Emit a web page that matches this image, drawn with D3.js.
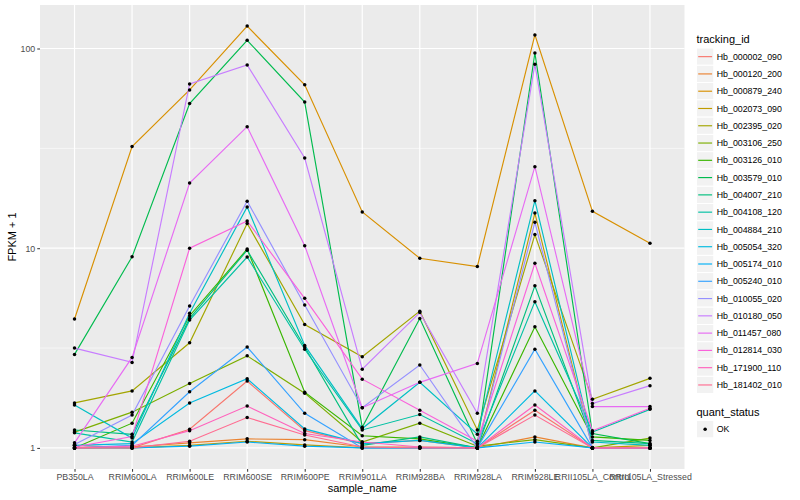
<!DOCTYPE html>
<html>
<head>
<meta charset="utf-8">
<script src="https://cdn.jsdelivr.net/npm/d3@7"></script>
<style>
  body { margin: 0; background: #fff; }
  text { font-family: "Liberation Sans", Arial, sans-serif; }
</style>
</head>
<body>
<svg id="chart"></svg>
<script>
// samples on the x axis
var samples = ["PB350LA", "RRIM600LA", "RRIM600LE", "RRIM600SE", "RRIM600PE", "RRIM901LA",
    "RRIM928BA", "RRIM928LA", "RRIM928LE", "RRII105LA_Control", "RRII105LA_Stressed"];

var trackingIds = ["Hb_000002_090", "Hb_000120_200", "Hb_000879_240", "Hb_002073_090", "Hb_002395_020",
    "Hb_003106_250", "Hb_003126_010", "Hb_003579_010", "Hb_004007_210", "Hb_004108_120",
    "Hb_004884_210", "Hb_005054_320", "Hb_005174_010", "Hb_005240_010", "Hb_010055_020",
    "Hb_010180_050", "Hb_011457_080", "Hb_012814_030", "Hb_171900_110", "Hb_181402_010"];

// FPKM + 1 per gene, same order as samples
var hb_000002_090 = [1.03, 1.0, 1.24, 2.16, 1.22, 1.05, 1.09, 1.0, 1.545, 1.0, 1.0];
var hb_000120_200 = [1.0, 1.01, 1.06, 1.11, 1.10, 1.01, 1.01, 1.0, 1.135, 1.0, 1.0];
var hb_000879_240 = [4.42, 32.3, 62, 129.5, 65.8, 15.2, 8.9, 8.1, 117, 15.3, 10.6];
var hb_002073_090 = [1.0, 1.0, 1.03, 1.08, 1.035, 1.0, 1.0, 1.0, 15.0, 1.0, 1.03];
var hb_002395_020 = [1.68, 1.93, 3.36, 13.3, 4.15, 2.86, 4.84, 1.23, 11.7, 1.75, 2.23];
var hb_003106_250 = [1.20, 1.51, 2.10, 2.89, 1.88, 1.07, 1.33, 1.02, 1.10, 1.0, 1.12];
var hb_003126_010 = [1.0, 1.33, 4.59, 9.9, 1.9, 1.15, 1.11, 1.0, 4.04, 1.135, 1.09];
var hb_003579_010 = [2.94, 9.06, 53, 110, 53.9, 1.27, 4.45, 1.05, 95, 1.18, 1.05];
var hb_004007_210 = [1.23, 1.17, 4.45, 9.77, 3.2, 1.03, 1.135, 1.0, 6.48, 1.09, 1.05];
var hb_004108_120 = [1.19, 1.07, 4.37, 9.03, 3.12, 1.23, 1.47, 1.05, 5.4, 1.2, 1.56];
var hb_004884_210 = [1.64, 1.12, 4.72, 16.1, 3.26, 1.25, 2.13, 1.17, 17.3, 1.07, 1.03];
var hb_005054_320 = [1.03, 1.05, 1.68, 2.22, 1.245, 1.05, 1.09, 1.0, 1.93, 1.0, 1.0];
var hb_005174_010 = [1.0, 1.0, 1.02, 1.07, 1.02, 1.0, 1.0, 1.0, 1.07, 1.0, 1.0];
var hb_005240_010 = [1.0, 1.03, 1.91, 3.2, 1.49, 1.0, 1.0, 1.0, 3.12, 1.0, 1.0];
var hb_010055_020 = [1.04, 1.46, 5.13, 17.2, 5.19, 1.59, 2.6, 1.0, 13.5, 1.0, 1.0];
var hb_010180_050 = [3.16, 2.68, 66.5, 82.8, 28.3, 2.48, 4.76, 1.49, 83.5, 1.67, 2.05];
var hb_011457_080 = [1.06, 2.84, 21.2, 40.6, 10.3, 1.59, 2.13, 2.65, 25.6, 1.61, 1.61];
var hb_012814_030 = [1.01, 1.14, 10, 13.7, 5.61, 2.21, 1.545, 1.08, 8.4, 1.22, 1.58];
var hb_171900_110 = [1.0, 1.02, 1.22, 1.62, 1.18, 1.07, 1.01, 1.0, 1.64, 1.0, 1.0];
var hb_181402_010 = [1.0, 1.0, 1.08, 1.42, 1.16, 1.01, 1.0, 1.0, 1.46, 1.0, 1.0];

var yTicks = [1, 10, 100];
var yMinor = [Math.sqrt(10), Math.sqrt(1000)];
var statusLabels = ["OK"];

var seriesValues = [hb_000002_090, hb_000120_200, hb_000879_240, hb_002073_090, hb_002395_020,
    hb_003106_250, hb_003126_010, hb_003579_010, hb_004007_210, hb_004108_120,
    hb_004884_210, hb_005054_320, hb_005174_010, hb_005240_010, hb_010055_020,
    hb_010180_050, hb_011457_080, hb_012814_030, hb_171900_110, hb_181402_010];

var series = trackingIds.map(function (id, i) {
    return {id: id, values: seriesValues[i]};
});

var width = 800, height = 500;
var panel = {left: 40, right: 684.5, top: 5, bottom: 469};

// ggplot hue palette
var colors = ["#F8766D", "#EA8331", "#D89000", "#C09B00", "#A3A500", "#7CAE00", "#39B600", "#00BB4E",
    "#00BF7D", "#00C1A3", "#00BFC4", "#00BAE0", "#00B0F6", "#35A2FF", "#9590FF", "#C77CFF",
    "#E76BF3", "#FA62DB", "#FF62BC", "#FF6C91"];
var color = d3.scaleOrdinal().domain(trackingIds).range(colors);

var x = d3.scalePoint()
    .domain(samples)
    .range([panel.left, panel.right])
    .padding(0.6);

// log axis with 5% expansion like ggplot
var allVals = d3.merge(seriesValues);
var lo = Math.log10(d3.min(allVals)), hi = Math.log10(d3.max(allVals));
var pad = (hi - lo) * 0.05;
var y = d3.scaleLog()
    .domain([Math.pow(10, lo - pad), Math.pow(10, hi + pad)])
    .range([panel.bottom, panel.top]);

var svg = d3.select("#chart")
    .attr("width", width)
    .attr("height", height);

svg.append("rect")
    .attr("x", panel.left)
    .attr("y", panel.top)
    .attr("width", panel.right - panel.left)
    .attr("height", panel.bottom - panel.top)
    .attr("fill", "#EBEBEB");

// minor grid
svg.append("g")
    .selectAll("line")
    .data(yMinor.filter(function (d) { return d > y.domain()[0] && d < y.domain()[1]; }))
    .enter().append("line")
    .attr("x1", panel.left).attr("x2", panel.right)
    .attr("y1", function (d) { return y(d); })
    .attr("y2", function (d) { return y(d); })
    .attr("stroke", "#fff")
    .attr("stroke-width", 0.6);

// major grid
svg.append("g")
    .selectAll("line")
    .data(yTicks)
    .enter().append("line")
    .attr("x1", panel.left).attr("x2", panel.right)
    .attr("y1", function (d) { return y(d); })
    .attr("y2", function (d) { return y(d); })
    .attr("stroke", "#fff")
    .attr("stroke-width", 1.2);

svg.append("g")
    .selectAll("line")
    .data(samples)
    .enter().append("line")
    .attr("y1", panel.top).attr("y2", panel.bottom)
    .attr("x1", function (d) { return x(d); })
    .attr("x2", function (d) { return x(d); })
    .attr("stroke", "#fff")
    .attr("stroke-width", 1.2);

// lines
var line = d3.line()
    .x(function (d, i) { return x(samples[i]); })
    .y(function (d) { return y(d); });

svg.append("g")
    .selectAll("path")
    .data(series)
    .enter().append("path")
    .attr("d", function (d) { return line(d.values); })
    .attr("fill", "none")
    .attr("stroke", function (d) { return color(d.id); })
    .attr("stroke-width", 1.15);

// points
var pts = [];
series.forEach(function (s) {
    s.values.forEach(function (v, i) { pts.push({sample: samples[i], value: v}); });
});
svg.append("g")
    .selectAll("circle")
    .data(pts)
    .enter().append("circle")
    .attr("cx", function (d) { return x(d.sample); })
    .attr("cy", function (d) { return y(d.value); })
    .attr("r", 1.75)
    .attr("fill", "#000");

// axes
var xAxis = d3.axisBottom(x).tickSize(2.75).tickPadding(2);
var gX = svg.append("g")
    .attr("transform", "translate(0," + panel.bottom + ")")
    .call(xAxis);

var yAxis = d3.axisLeft(y).tickValues(yTicks).tickFormat(d3.format("d")).tickSize(2.75).tickPadding(2);
var gY = svg.append("g")
    .attr("transform", "translate(" + panel.left + ",0)")
    .call(yAxis);

[gX, gY].forEach(function (g) {
    g.select(".domain").remove();
    g.selectAll(".tick line").attr("stroke", "#333333").attr("stroke-width", 1);
    g.selectAll(".tick text")
        .attr("fill", "#4D4D4D")
        .style("font-size", "8.8px")
        .style("font-family", "'Liberation Sans', Arial, sans-serif");
});

svg.append("text")
    .attr("x", (panel.left + panel.right) / 2)
    .attr("y", 492)
    .attr("text-anchor", "middle")
    .style("font-size", "11px")
    .text("sample_name");

svg.append("text")
    .attr("transform", "translate(16," + ((panel.top + panel.bottom) / 2) + ") rotate(-90)")
    .attr("text-anchor", "middle")
    .style("font-size", "11px")
    .text("FPKM + 1");

// legend: tracking_id
var keySize = 17.28;
var legX = 696.5, legY = 48;
var leg = svg.append("g");
leg.append("text")
    .attr("x", legX)
    .attr("y", legY - 5)
    .style("font-size", "11px")
    .text("tracking_id");

var items = leg.selectAll("g.item")
    .data(trackingIds)
    .enter().append("g")
    .attr("class", "item")
    .attr("transform", function (d, i) { return "translate(" + legX + "," + (legY + i * keySize) + ")"; });

items.append("rect")
    .attr("width", keySize)
    .attr("height", keySize)
    .attr("fill", "#F2F2F2")
    .attr("stroke", "#fff")
    .attr("stroke-width", 1);

items.append("line")
    .attr("x1", 1.7).attr("x2", keySize - 1.7)
    .attr("y1", keySize / 2).attr("y2", keySize / 2)
    .attr("stroke", function (d) { return color(d); })
    .attr("stroke-width", 1.15);

items.append("text")
    .attr("x", keySize + 3)
    .attr("y", keySize / 2)
    .attr("dy", "0.35em")
    .style("font-size", "8.8px")
    .text(function (d) { return d; });

// legend: quant_status
var leg2Y = 420.5;
leg.append("text")
    .attr("x", legX)
    .attr("y", leg2Y - 4.5)
    .style("font-size", "11px")
    .text("quant_status");

var items2 = leg.selectAll("g.item2")
    .data(statusLabels)
    .enter().append("g")
    .attr("class", "item2")
    .attr("transform", function (d, i) { return "translate(" + legX + "," + (leg2Y + i * keySize) + ")"; });

items2.append("rect")
    .attr("width", keySize)
    .attr("height", keySize)
    .attr("fill", "#F2F2F2")
    .attr("stroke", "#fff");

items2.append("circle")
    .attr("cx", keySize / 2)
    .attr("cy", keySize / 2)
    .attr("r", 1.75)
    .attr("fill", "#000");

items2.append("text")
    .attr("x", keySize + 3)
    .attr("y", keySize / 2)
    .attr("dy", "0.35em")
    .style("font-size", "8.8px")
    .text(function (d) { return d; });
</script>
</body>
</html>
